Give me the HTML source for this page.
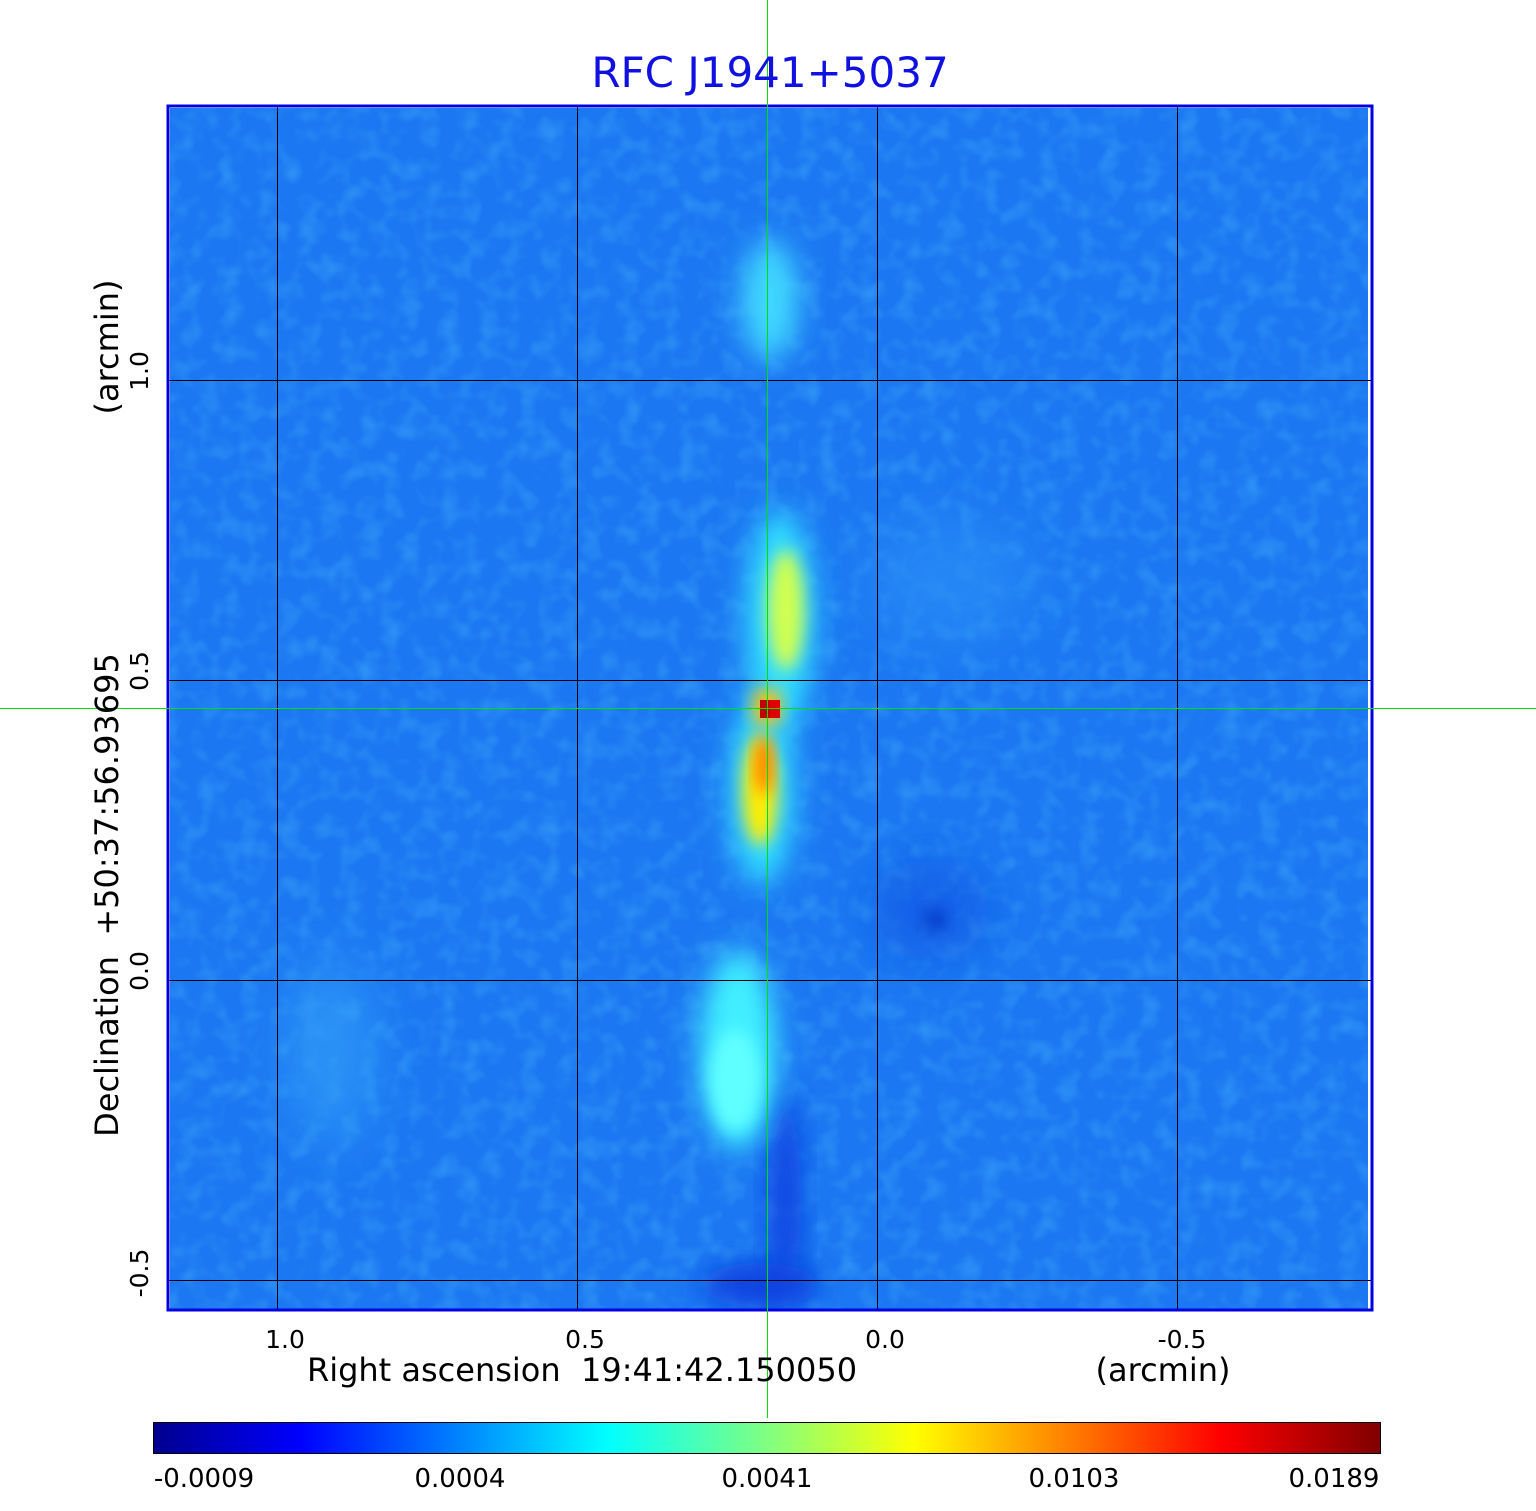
<!DOCTYPE html>
<html><head><meta charset="utf-8"><style>
html,body{margin:0;padding:0;background:#fff;}
body{width:1536px;height:1511px;position:relative;overflow:hidden;font-family:"DejaVu Sans","Liberation Sans",sans-serif;}
</style></head><body>
<svg width="1536" height="1511" viewBox="0 0 1536 1511" xmlns="http://www.w3.org/2000/svg" style="position:absolute;left:0;top:0">
<defs>
<filter id="b8" x="-50%" y="-50%" width="200%" height="200%"><feGaussianBlur stdDeviation="8"/></filter>
<filter id="b14" x="-50%" y="-50%" width="200%" height="200%"><feGaussianBlur stdDeviation="14"/></filter>
<filter id="b25" x="-50%" y="-50%" width="200%" height="200%"><feGaussianBlur stdDeviation="25"/></filter>
<filter id="noise" x="0" y="0" width="100%" height="100%">
<feTurbulence type="fractalNoise" baseFrequency="0.05" numOctaves="2" seed="4"/>
<feColorMatrix type="matrix" values="0 0 0 0 0.05  0 0 0 0 0.40  0 0 0 0 0.95  0 0 0 -1.8 1.0"/>
</filter>
<clipPath id="cp"><rect x="170" y="108" width="1198" height="1202"/></clipPath>
<linearGradient id="jet" x1="0" x2="1" y1="0" y2="0">
<stop offset="0" stop-color="#00008f"/>
<stop offset="0.12" stop-color="#0000ff"/>
<stop offset="0.37" stop-color="#00ffff"/>
<stop offset="0.5" stop-color="#80ff80"/>
<stop offset="0.62" stop-color="#ffff00"/>
<stop offset="0.87" stop-color="#ff0000"/>
<stop offset="1" stop-color="#800000"/>
</linearGradient>
</defs>
<g clip-path="url(#cp)">
<rect x="170" y="108" width="1198" height="1202" fill="#1c78f2"/>
<rect x="170" y="108" width="1198" height="1202" filter="url(#noise)" opacity="0.6"/>
<ellipse cx="330" cy="1050" rx="40" ry="90" fill="#30a0f8" filter="url(#b25)" opacity="0.7"/>
<ellipse cx="950" cy="580" rx="80" ry="60" fill="#2a90f6" filter="url(#b25)" opacity="0.6"/>
<ellipse cx="930" cy="910" rx="60" ry="50" fill="#0a50e0" filter="url(#b25)" opacity="0.6"/>
<ellipse cx="935" cy="920" rx="10" ry="10" fill="#0030c0" filter="url(#b8)"/>
<ellipse cx="785" cy="1200" rx="16" ry="110" fill="#0a40e0" filter="url(#b14)"/>
<ellipse cx="760" cy="1285" rx="60" ry="22" fill="#0a40e0" filter="url(#b14)"/>
<ellipse cx="770" cy="300" rx="28" ry="60" fill="#40d8ff" filter="url(#b14)"/>
<ellipse cx="738" cy="1050" rx="38" ry="100" fill="#40f0ff" filter="url(#b14)"/>
<ellipse cx="735" cy="1080" rx="25" ry="50" fill="#60ffff" filter="url(#b8)"/>
<ellipse cx="780" cy="620" rx="34" ry="110" fill="#30e0ff" filter="url(#b14)"/>
<ellipse cx="762" cy="790" rx="32" ry="95" fill="#30e0ff" filter="url(#b14)"/>
<ellipse cx="786" cy="610" rx="18" ry="60" fill="#d0ff50" filter="url(#b8)"/>
<ellipse cx="760" cy="790" rx="17" ry="55" fill="#ffee00" filter="url(#b8)"/>
<ellipse cx="764" cy="765" rx="8" ry="30" fill="#ff7000" filter="url(#b8)"/>
<rect x="754" y="690" width="26" height="34" fill="#ffc000" filter="url(#b8)"/>
<rect x="760" y="700" width="10" height="18" fill="#c00000"/>
<rect x="770" y="700" width="10" height="18" fill="#e00000"/>
</g>
<g stroke="#000" stroke-width="1">
<line x1="277.5" y1="106" x2="277.5" y2="1310"/>
<line x1="577.5" y1="106" x2="577.5" y2="1310"/>
<line x1="877.5" y1="106" x2="877.5" y2="1310"/>
<line x1="1177.5" y1="106" x2="1177.5" y2="1310"/>
<line x1="168" y1="380.5" x2="1372" y2="380.5"/>
<line x1="168" y1="680.5" x2="1372" y2="680.5"/>
<line x1="168" y1="980.5" x2="1372" y2="980.5"/>
<line x1="168" y1="1280.5" x2="1372" y2="1280.5"/>
</g>
<rect x="168" y="106" width="1204" height="1204" fill="none" stroke="#0000e0" stroke-width="3"/>
<rect x="767" y="0" width="1" height="1418" fill="#00e000"/>
<rect x="0" y="708" width="1536" height="1" fill="#00e000"/>
<text x="770" y="87" font-size="42" fill="#1010e0" text-anchor="middle">RFC J1941+5037</text>
<g font-size="25" fill="#000" text-anchor="middle">
<text x="285" y="1348">1.0</text>
<text x="585" y="1348">0.5</text>
<text x="885" y="1348">0.0</text>
<text x="1182" y="1348">-0.5</text>
</g>
<text x="582" y="1381" font-size="32" text-anchor="middle" xml:space="preserve">Right ascension  19:41:42.150050</text>
<text x="1163" y="1381" font-size="32" text-anchor="middle">(arcmin)</text>
<g font-size="25" text-anchor="middle">
<text transform="translate(148,371) rotate(-90)">1.0</text>
<text transform="translate(148,671) rotate(-90)">0.5</text>
<text transform="translate(148,971) rotate(-90)">0.0</text>
<text transform="translate(148,1273) rotate(-90)">-0.5</text>
</g>
<text transform="translate(118,895) rotate(-90)" font-size="32" text-anchor="middle" xml:space="preserve">Declination  +50:37:56.93695</text>
<text transform="translate(118,347) rotate(-90)" font-size="32" text-anchor="middle">(arcmin)</text>
<rect x="153.5" y="1422.5" width="1227" height="31" fill="url(#jet)" stroke="#000" stroke-width="1"/>
<g font-size="26" text-anchor="middle">
<text x="204" y="1487">-0.0009</text>
<text x="460" y="1487">0.0004</text>
<text x="767" y="1487">0.0041</text>
<text x="1074" y="1487">0.0103</text>
<text x="1334" y="1487">0.0189</text>
</g>
</svg>
</body></html>
